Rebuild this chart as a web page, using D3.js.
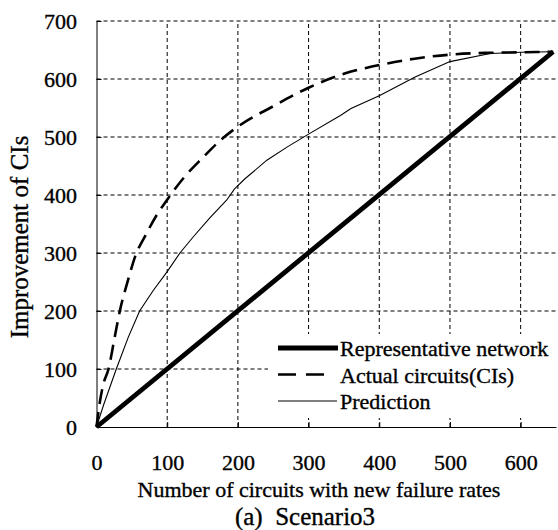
<!DOCTYPE html>
<html>
<head>
<meta charset="utf-8">
<script src="https://cdn.jsdelivr.net/npm/d3@7"></script>
<style>
  body { margin: 0; background: #fff; }
  text { font-family: "Liberation Serif", "Times New Roman", "DejaVu Serif", serif; stroke: #000; stroke-width: 0.35px; }
</style>
</head>
<body>
<div id="chart"></div>
<script>
// values
const xTicks = [0, 100, 200, 300, 400, 500, 600];
const yTicks = [0, 100, 200, 300, 400, 500, 600, 700];

const repX = [0, 646];
const repY = [0, 647];

const actualX = [0, 5, 10, 17, 25, 33, 45, 55, 70, 85, 100, 125, 150, 175, 200, 250, 300, 350, 400, 450, 500, 550, 600, 646];
const actualY = [0, 45, 75, 100, 150, 200, 255, 295, 332, 365, 392, 432, 464, 494, 518, 553, 585, 609, 624, 635, 642, 645, 646, 647];

const predX = [0, 10, 28, 45, 61, 80, 100, 118, 137, 160, 184, 195, 210, 241, 270, 300, 345, 360, 400, 450, 500, 557, 600, 646];
const predY = [0, 38, 100, 155, 200, 235, 268, 300, 328, 360, 391, 410, 428, 460, 483, 505, 537, 549, 571, 603, 630, 644, 646, 647];

const legendNames = ["Representative network", "Actual circuits(CIs)", "Prediction"];

const FONT = "'Liberation Serif', 'Times New Roman', 'DejaVu Serif', serif";

const width = 558, height = 530;
const svg = d3.select("#chart").append("svg")
    .attr("width", width)
    .attr("height", height)
    .attr("font-family", FONT);

const x = d3.scaleLinear().domain([0, 650]).range([96.5, 556]);
const y = d3.scaleLinear().domain([0, 700]).range([427, 21]);

// grid
svg.append("g").selectAll("line")
    .data(yTicks.slice(1))
    .enter().append("line")
    .attr("x1", x(0)).attr("x2", x(650))
    .attr("y1", d => y(d)).attr("y2", d => y(d))
    .attr("stroke", "#000").attr("stroke-width", 1)
    .attr("stroke-dasharray", "4,3");
svg.append("g").selectAll("line")
    .data(xTicks.slice(1))
    .enter().append("line")
    .attr("x1", d => x(d)).attr("x2", d => x(d))
    .attr("y1", y(0)).attr("y2", y(700))
    .attr("stroke", "#000").attr("stroke-width", 1)
    .attr("stroke-dasharray", "4,3");

const toPts = (xs, ys) => xs.map((v, i) => [v, ys[i]]);

// series
svg.append("path")
    .datum(toPts(predX, predY))
    .attr("d", d3.line().x(d => x(d[0])).y(d => y(d[1])))
    .attr("fill", "none").attr("stroke", "#000").attr("stroke-width", 1.1);

svg.append("path")
    .datum(toPts(actualX, actualY))
    .attr("d", d3.line().x(d => x(d[0])).y(d => y(d[1])).curve(d3.curveMonotoneX))
    .attr("fill", "none").attr("stroke", "#000").attr("stroke-width", 2.6)
    .attr("stroke-dasharray", "15,8");

svg.append("path")
    .datum(toPts(repX, repY))
    .attr("d", d3.line().x(d => x(d[0])).y(d => y(d[1])))
    .attr("fill", "none").attr("stroke", "#000").attr("stroke-width", 4.8);

// legend
svg.append("rect")
    .attr("x", 268).attr("y", 334)
    .attr("width", 290).attr("height", 84)
    .attr("fill", "#fff");

const legendStyles = [
    { w: 4.8, dash: null, x2: 338 },
    { w: 2.6, dash: "18,10", x2: 324 },
    { w: 1.1, dash: null, x2: 337 }
];
const legend = svg.append("g");
legendNames.forEach((name, i) => {
    const ly = 348 + i * 26.5;
    legend.append("line")
        .attr("x1", 278).attr("x2", legendStyles[i].x2)
        .attr("y1", ly).attr("y2", ly)
        .attr("stroke", "#000")
        .attr("stroke-width", legendStyles[i].w)
        .attr("stroke-dasharray", legendStyles[i].dash);
    legend.append("text")
        .attr("x", 340).attr("y", ly + 8)
        .attr("font-size", 22)
        .text(name);
});

// axes
const xAxis = d3.axisBottom(x).tickValues(xTicks).tickSizeInner(-5).tickSizeOuter(0).tickPadding(27);
const yAxis = d3.axisLeft(y).tickValues(yTicks).tickSizeInner(-5).tickSizeOuter(0).tickPadding(19.5);

const gx = svg.append("g")
    .attr("transform", `translate(0,${y(0)})`)
    .call(xAxis);
const gy = svg.append("g")
    .attr("transform", `translate(${x(0)},0)`)
    .call(yAxis);
[gx, gy].forEach(g => {
    g.attr("font-family", FONT).attr("font-size", 22);
    g.selectAll("text").attr("font-size", 22).attr("fill", "#000");
    g.selectAll("line,path").attr("stroke", "#000");
});
gy.selectAll("text").attr("dy", "0.33em");

// titles
svg.append("text")
    .attr("x", 319).attr("y", 497)
    .attr("text-anchor", "middle")
    .attr("font-size", 22)
    .text("Number of circuits with new failure rates");

svg.append("text")
    .attr("transform", "translate(28,237) rotate(-90)")
    .attr("text-anchor", "middle")
    .attr("font-size", 25)
    .text("Improvement of CIs");

svg.append("text")
    .attr("x", 305).attr("y", 525)
    .attr("text-anchor", "middle")
    .attr("font-size", 25)
    .style("white-space", "pre")
    .text("(a)  Scenario3");
</script>
</body>
</html>
